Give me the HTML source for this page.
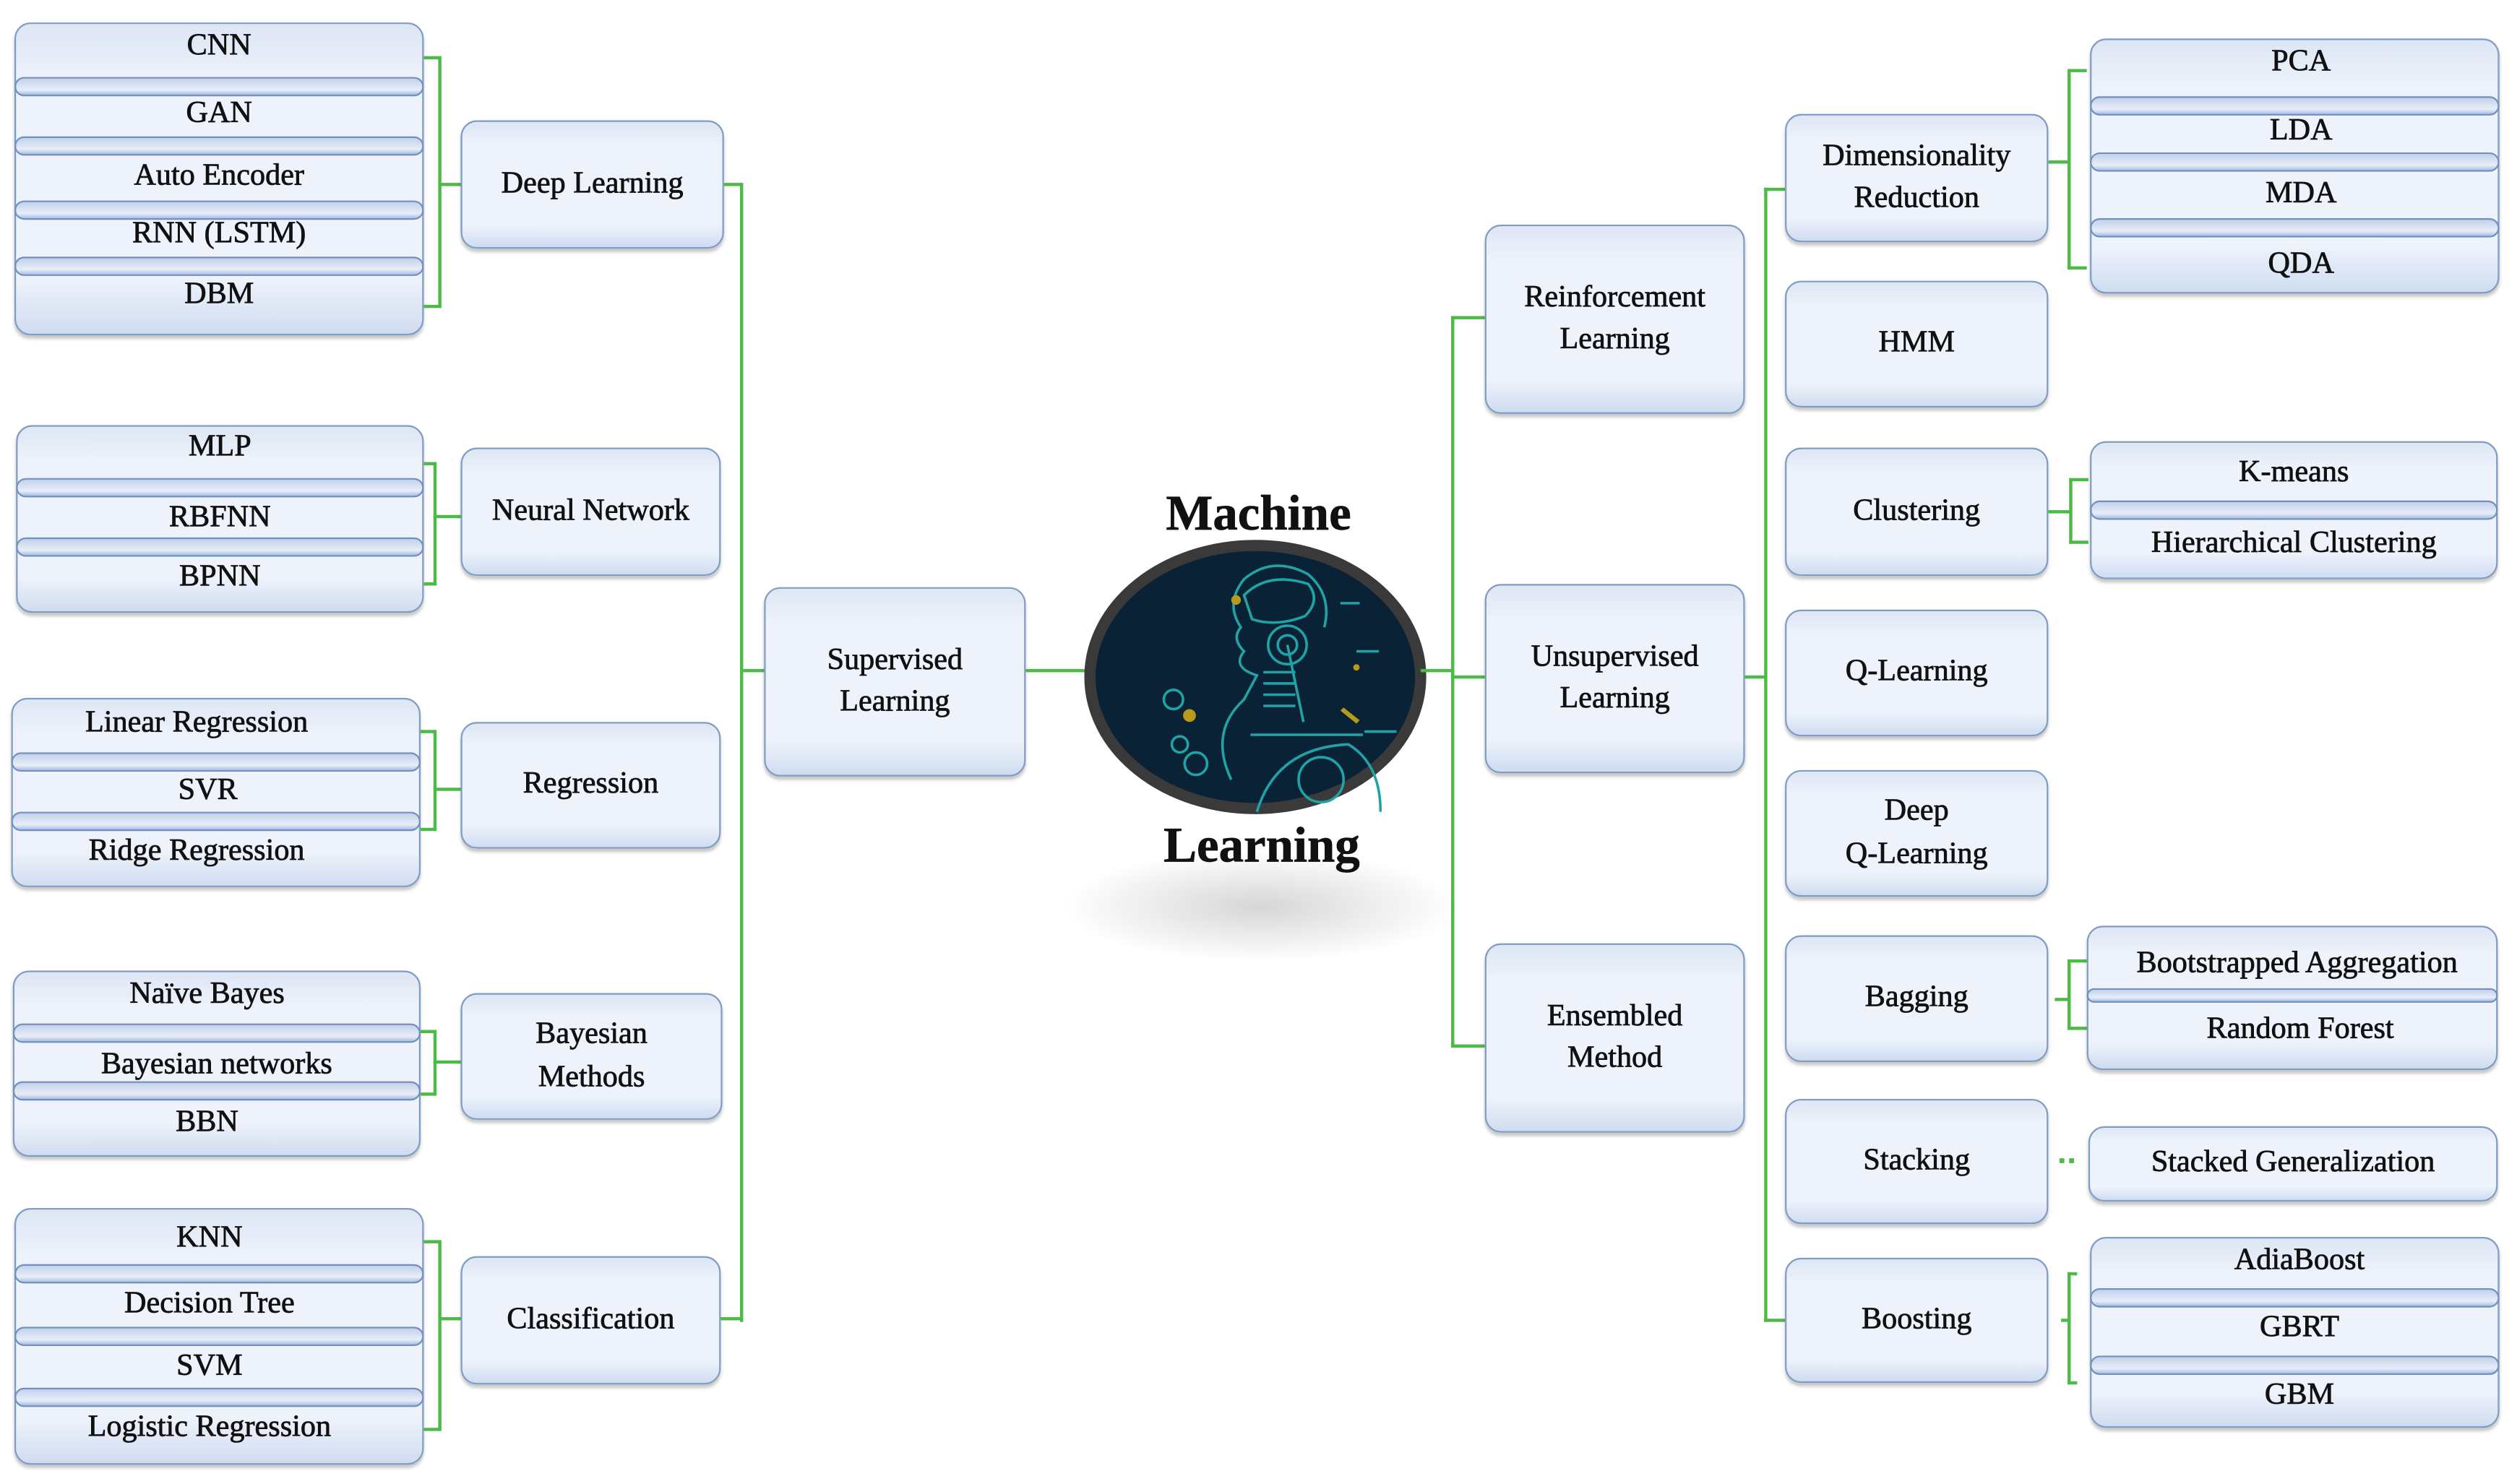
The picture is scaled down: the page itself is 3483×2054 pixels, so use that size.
<!DOCTYPE html>
<html><head><meta charset="utf-8">
<style>
html,body{margin:0;padding:0;background:#fff;}
body{width:3483px;height:2054px;overflow:hidden;position:relative;}
#w{position:absolute;left:0;top:0;width:1568px;height:925px;transform-origin:0 0;transform:scale(2.2213,2.2205);}
.b{position:absolute;box-sizing:border-box;border:1.5px solid #7f9cc4;border-radius:10px;background:linear-gradient(#dde6f4,#edf2fb 18%,#eef3fb 82%,#cfdcf0);box-shadow:0 2px 2px rgba(0,0,0,.22);display:flex;align-items:center;justify-content:center;text-align:center;font:19px/1.38 "Liberation Serif",serif;color:#111;-webkit-text-stroke:0.35px #111;}
.s{position:absolute;box-sizing:border-box;border:1.2px solid #7290bd;border-radius:7px;height:12px;background:linear-gradient(#c3d1e9,#e7eef9 70%,#a9c0e2);}
.t{position:absolute;text-align:center;font:19px/1 "Liberation Serif",serif;color:#111;white-space:nowrap;-webkit-text-stroke:0.35px #111;}
.g{position:absolute;background:#4cba46;}
.big{position:absolute;font:bold 31px/1 "Liberation Serif",serif;color:#111;text-align:center;width:200px;-webkit-text-stroke:0.3px #111;}
</style></head><body><div id="w">

<div class="b" style="left:9px;top:14px;width:255px;height:195px"></div>
<div class="s" style="left:9px;top:48px;width:255px"></div>
<div class="s" style="left:9px;top:85px;width:255px"></div>
<div class="s" style="left:9px;top:125px;width:255px"></div>
<div class="s" style="left:9px;top:160px;width:255px"></div>
<div class="t" style="left:9px;width:255px;top:19px">CNN</div>
<div class="t" style="left:9px;width:255px;top:61px">GAN</div>
<div class="t" style="left:9px;width:255px;top:100px">Auto Encoder</div>
<div class="t" style="left:9px;width:255px;top:136px">RNN (LSTM)</div>
<div class="t" style="left:9px;width:255px;top:174px">DBM</div>

<div class="b" style="left:10px;top:265px;width:254px;height:117px"></div>
<div class="s" style="left:10px;top:298px;width:254px"></div>
<div class="s" style="left:10px;top:335px;width:254px"></div>
<div class="t" style="left:10px;width:254px;top:269px">MLP</div>
<div class="t" style="left:10px;width:254px;top:313px">RBFNN</div>
<div class="t" style="left:10px;width:254px;top:350px">BPNN</div>

<div class="b" style="left:7px;top:435px;width:255px;height:118px"></div>
<div class="s" style="left:7px;top:469px;width:255px"></div>
<div class="s" style="left:7px;top:506px;width:255px"></div>
<div class="t" style="left:0px;width:245px;top:441px">Linear Regression</div>
<div class="t" style="left:7px;width:245px;top:483px">SVR</div>
<div class="t" style="left:0px;width:245px;top:521px">Ridge Regression</div>

<div class="b" style="left:8px;top:605px;width:254px;height:116px"></div>
<div class="s" style="left:8px;top:638px;width:254px"></div>
<div class="s" style="left:8px;top:674px;width:254px"></div>
<div class="t" style="left:2px;width:254px;top:610px">Naïve Bayes</div>
<div class="t" style="left:8px;width:254px;top:654px">Bayesian networks</div>
<div class="t" style="left:2px;width:254px;top:690px">BBN</div>

<div class="b" style="left:9px;top:753px;width:255px;height:160px"></div>
<div class="s" style="left:9px;top:788px;width:255px"></div>
<div class="s" style="left:9px;top:827px;width:255px"></div>
<div class="s" style="left:9px;top:865px;width:255px"></div>
<div class="t" style="left:3px;width:255px;top:762px">KNN</div>
<div class="t" style="left:3px;width:255px;top:803px">Decision Tree</div>
<div class="t" style="left:3px;width:255px;top:842px">SVM</div>
<div class="t" style="left:3px;width:255px;top:880px">Logistic Regression</div>

<div class="g" style="left:264px;top:35px;width:10px;height:2px"></div>
<div class="g" style="left:273px;top:35px;width:2px;height:157px"></div>
<div class="g" style="left:264px;top:190px;width:10px;height:2px"></div>
<div class="g" style="left:273px;top:114px;width:14px;height:2px"></div>

<div class="g" style="left:264px;top:288px;width:8px;height:2px"></div>
<div class="g" style="left:270px;top:288px;width:2px;height:77px"></div>
<div class="g" style="left:264px;top:363px;width:8px;height:2px"></div>
<div class="g" style="left:270px;top:321px;width:17px;height:2px"></div>

<div class="g" style="left:262px;top:455px;width:9px;height:2px"></div>
<div class="g" style="left:270px;top:455px;width:2px;height:63px"></div>
<div class="g" style="left:262px;top:516px;width:9px;height:2px"></div>
<div class="g" style="left:270px;top:491px;width:17px;height:2px"></div>

<div class="g" style="left:262px;top:642px;width:9px;height:2px"></div>
<div class="g" style="left:270px;top:642px;width:2px;height:41px"></div>
<div class="g" style="left:262px;top:681px;width:9px;height:2px"></div>
<div class="g" style="left:270px;top:661px;width:17px;height:2px"></div>

<div class="g" style="left:264px;top:773px;width:10px;height:2px"></div>
<div class="g" style="left:273px;top:773px;width:2px;height:119px"></div>
<div class="g" style="left:264px;top:890px;width:10px;height:2px"></div>
<div class="g" style="left:273px;top:821px;width:14px;height:2px"></div>

<div class="b" style="left:287px;top:75px;width:164px;height:80px">Deep Learning</div>
<div class="b" style="left:287px;top:279px;width:162px;height:80px">Neural Network</div>
<div class="b" style="left:287px;top:450px;width:162px;height:79px">Regression</div>
<div class="b" style="left:287px;top:619px;width:163px;height:79px">Bayesian<br>Methods</div>
<div class="b" style="left:287px;top:783px;width:162px;height:80px">Classification</div>

<div class="g" style="left:461px;top:114px;width:2px;height:710px"></div>
<div class="g" style="left:451px;top:114px;width:11px;height:2px"></div>
<div class="g" style="left:449px;top:821px;width:12px;height:2px"></div>
<div class="g" style="left:461px;top:417px;width:15px;height:2px"></div>

<div class="b" style="left:476px;top:366px;width:163px;height:118px">Supervised<br>Learning</div>
<div class="g" style="left:639px;top:417px;width:42px;height:2px"></div>

<div style="position:absolute;left:660px;top:530px;width:250px;height:70px;border-radius:50%;background:radial-gradient(ellipse at center,rgba(0,0,0,.16),rgba(0,0,0,0) 70%)"></div>
<div class="big" style="left:684px;top:304px">Machine</div>
<div class="big" style="left:686px;top:511px">Learning</div>
<svg style="position:absolute;left:675px;top:336px" width="215" height="172" viewBox="0 0 215 172">
<ellipse cx="107" cy="86" rx="103" ry="82" fill="#0a2235" stroke="#3a3a3a" stroke-width="7"/>
<g fill="none" stroke="#1fa3a6" stroke-width="1.6">
<path d="M92 150 Q78 120 100 100 L108 85 Q92 80 100 70 Q92 62 98 55 Q88 40 100 25 Q118 10 140 22 Q155 35 150 55"/>
<path d="M100 35 Q115 20 140 28 Q148 38 138 48 Q120 55 105 50Z"/>
<circle cx="127" cy="66" r="12"/><circle cx="127" cy="66" r="6"/>
<path d="M127 66 L137 114"/>
<path d="M112 83h20M112 90h20M112 97h20M112 104h20"/>
<path d="M104 122h70"/>
<path d="M108 170 Q120 130 165 128 Q185 140 185 170"/>
<circle cx="148" cy="150" r="14"/>
<circle cx="70" cy="140" r="7"/><circle cx="56" cy="100" r="6"/><circle cx="60" cy="128" r="5"/>
<path d="M170 70h14M160 40h12M175 120h20"/>
</g>
<g fill="#b59a1c"><circle cx="95" cy="38" r="3"/><circle cx="66" cy="110" r="4"/><path d="M162 105l10 8-2 2-10-8z"/><circle cx="170" cy="80" r="2"/></g>
</svg>
<div class="g" style="left:885px;top:417px;width:20px;height:2px"></div>

<div class="g" style="left:904px;top:197px;width:2px;height:456px"></div>
<div class="g" style="left:904px;top:197px;width:21px;height:2px"></div>
<div class="g" style="left:904px;top:651px;width:21px;height:2px"></div>
<div class="g" style="left:904px;top:421px;width:21px;height:2px"></div>
<div class="b" style="left:925px;top:140px;width:162px;height:118px">Reinforcement<br>Learning</div>
<div class="b" style="left:925px;top:364px;width:162px;height:118px">Unsupervised<br>Learning</div>
<div class="b" style="left:925px;top:588px;width:162px;height:118px">Ensembled<br>Method</div>

<div class="g" style="left:1087px;top:421px;width:13px;height:2px"></div>
<div class="g" style="left:1099px;top:117px;width:2px;height:707px"></div>
<div class="g" style="left:1099px;top:117px;width:13px;height:2px"></div>
<div class="g" style="left:1099px;top:822px;width:13px;height:2px"></div>

<div class="b" style="left:1112px;top:71px;width:164px;height:80px">Dimensionality<br>Reduction</div>
<div class="b" style="left:1112px;top:175px;width:164px;height:79px">HMM</div>
<div class="b" style="left:1112px;top:279px;width:164px;height:80px">Clustering</div>
<div class="b" style="left:1112px;top:380px;width:164px;height:79px">Q-Learning</div>
<div class="b" style="left:1112px;top:480px;width:164px;height:79px">Deep<br>Q-Learning</div>
<div class="b" style="left:1112px;top:583px;width:164px;height:79px">Bagging</div>
<div class="b" style="left:1112px;top:685px;width:164px;height:78px">Stacking</div>
<div class="b" style="left:1112px;top:784px;width:164px;height:78px">Boosting</div>

<div class="g" style="left:1276px;top:100px;width:13px;height:2px"></div>
<div class="g" style="left:1288px;top:43px;width:2px;height:125px"></div>
<div class="g" style="left:1288px;top:43px;width:12px;height:2px"></div>
<div class="g" style="left:1288px;top:166px;width:12px;height:2px"></div>

<div class="g" style="left:1276px;top:318px;width:14px;height:2px"></div>
<div class="g" style="left:1289px;top:298px;width:2px;height:41px"></div>
<div class="g" style="left:1289px;top:298px;width:12px;height:2px"></div>
<div class="g" style="left:1289px;top:337px;width:12px;height:2px"></div>

<div class="g" style="left:1280px;top:622px;width:9px;height:2px"></div>
<div class="g" style="left:1288px;top:598px;width:2px;height:44px"></div>
<div class="g" style="left:1288px;top:598px;width:12px;height:2px"></div>
<div class="g" style="left:1288px;top:640px;width:12px;height:2px"></div>

<div class="g" style="left:1283px;top:722px;width:3px;height:3px"></div>
<div class="g" style="left:1289px;top:722px;width:3px;height:3px"></div>

<div class="g" style="left:1284px;top:822px;width:5px;height:2px"></div>
<div class="g" style="left:1288px;top:793px;width:2px;height:70px"></div>
<div class="g" style="left:1288px;top:793px;width:6px;height:2px"></div>
<div class="g" style="left:1288px;top:861px;width:6px;height:2px"></div>

<div class="b" style="left:1302px;top:24px;width:255px;height:159px"></div>
<div class="s" style="left:1302px;top:60px;width:255px"></div>
<div class="s" style="left:1302px;top:95px;width:255px"></div>
<div class="s" style="left:1302px;top:136px;width:255px"></div>
<div class="t" style="left:1306px;width:255px;top:29px">PCA</div>
<div class="t" style="left:1306px;width:255px;top:72px">LDA</div>
<div class="t" style="left:1306px;width:255px;top:111px">MDA</div>
<div class="t" style="left:1306px;width:255px;top:155px">QDA</div>

<div class="b" style="left:1302px;top:275px;width:254px;height:86px"></div>
<div class="s" style="left:1302px;top:312px;width:254px"></div>
<div class="t" style="left:1302px;width:254px;top:285px">K-means</div>
<div class="t" style="left:1302px;width:254px;top:329px">Hierarchical Clustering</div>

<div class="b" style="left:1300px;top:577px;width:256px;height:90px"></div>
<div class="s" style="left:1300px;top:616px;width:256px;height:9px"></div>
<div class="t" style="left:1303px;width:256px;top:591px">Bootstrapped Aggregation</div>
<div class="t" style="left:1305px;width:256px;top:632px">Random Forest</div>

<div class="b" style="left:1301px;top:702px;width:255px;height:47px">Stacked Generalization</div>

<div class="b" style="left:1302px;top:771px;width:255px;height:119px"></div>
<div class="s" style="left:1302px;top:803px;width:255px"></div>
<div class="s" style="left:1302px;top:845px;width:255px"></div>
<div class="t" style="left:1305px;width:255px;top:776px">AdiaBoost</div>
<div class="t" style="left:1305px;width:255px;top:818px">GBRT</div>
<div class="t" style="left:1305px;width:255px;top:860px">GBM</div>

</div></body></html>
